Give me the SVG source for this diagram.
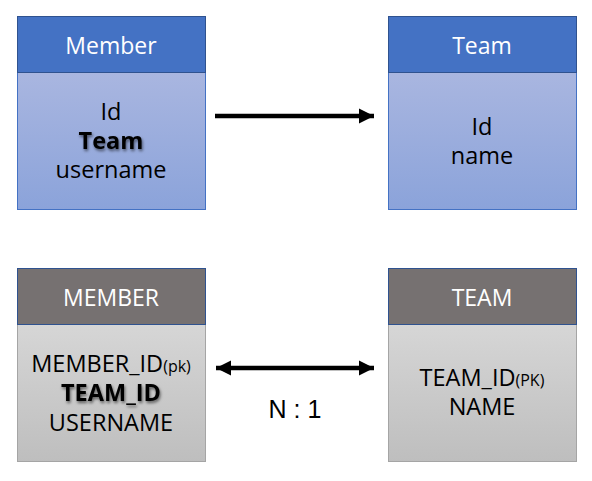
<svg xmlns="http://www.w3.org/2000/svg" width="592" height="481" viewBox="0 0 592 481">
<defs>
<linearGradient id="gBlue" x1="0" y1="0" x2="0" y2="1"><stop offset="0" stop-color="#A9B6E0"/><stop offset="1" stop-color="#8BA3DA"/></linearGradient>
<linearGradient id="gGray" x1="0" y1="0" x2="0" y2="1"><stop offset="0" stop-color="#D6D6D6"/><stop offset="1" stop-color="#BEBEBE"/></linearGradient>
<filter id="sh" x="-20%" y="-30%" width="140%" height="170%"><feDropShadow dx="1" dy="2" stdDeviation="1.5" flood-color="#000" flood-opacity="0.55"/></filter>
<marker id="ah" viewBox="0 0 10 10" refX="10" refY="5" markerWidth="3.4" markerHeight="3.4" markerUnits="strokeWidth" orient="auto-start-reverse"><path d="M0,0 L10,5 L0,10 Z" fill="#000"/></marker>
</defs>
<style>
text{font-family:"Open Sans","Liberation Sans",sans-serif;text-anchor:middle;}
.hd{fill:#fff;font-size:23px;}
.bd{fill:#000;font-size:23.5px;}
.b{font-weight:bold;filter:url(#sh);}
.sm{font-size:16px;}
.hb{fill:#4472C4;stroke:#2F528F;stroke-width:1;}
.bb{fill:url(#gBlue);stroke:#4472C4;stroke-width:1;}
.hg{fill:#767171;stroke:#2F528F;stroke-width:1;}
.bg{fill:url(#gGray);stroke:#A5A5A5;stroke-width:1;}
.ln{stroke:#000;stroke-width:4.5;fill:none;}
</style>
<g id="member">
<rect class="bb" x="17.5" y="72.5" width="188" height="137"/>
<rect class="hb" x="17.5" y="16.5" width="188" height="56"/>
<text class="hd" x="111" y="54">Member</text>
<text class="bd" x="111" y="120">Id</text>
<text class="bd b" x="111" y="149">Team</text>
<text class="bd" x="111" y="178">username</text>
</g>
<g id="team">
<rect class="bb" x="388.5" y="72.5" width="188" height="137"/>
<rect class="hb" x="388.5" y="16.5" width="188" height="56"/>
<text class="hd" x="482" y="54">Team</text>
<text class="bd" x="482" y="135">Id</text>
<text class="bd" x="482" y="164">name</text>
</g>
<g id="MEMBER">
<rect class="bg" x="17.5" y="324.5" width="188" height="137"/>
<rect class="hg" x="17.5" y="268.5" width="188" height="56"/>
<text class="hd" x="111" y="306">MEMBER</text>
<text class="bd" x="111" y="372">MEMBER_ID<tspan class="sm">(pk)</tspan></text>
<text class="bd b" x="111" y="401">TEAM_ID</text>
<text class="bd" x="111" y="431">USERNAME</text>
</g>
<g id="TEAM">
<rect class="bg" x="388.5" y="324.5" width="188" height="137"/>
<rect class="hg" x="388.5" y="268.5" width="188" height="56"/>
<text class="hd" x="482" y="306">TEAM</text>
<text class="bd" x="482" y="386">TEAM_ID<tspan class="sm">(PK)</tspan></text>
<text class="bd" x="482" y="415">NAME</text>
</g>
<g id="connectors">
<line class="ln" x1="215" y1="116" x2="374" y2="116" marker-end="url(#ah)"/>
<line class="ln" x1="216" y1="368" x2="374" y2="368" marker-start="url(#ah)" marker-end="url(#ah)"/>
<text x="295" y="418" style="font-family:'Liberation Sans',Arial,sans-serif;font-size:25px;fill:#000">N : 1</text>
</g>
</svg>
